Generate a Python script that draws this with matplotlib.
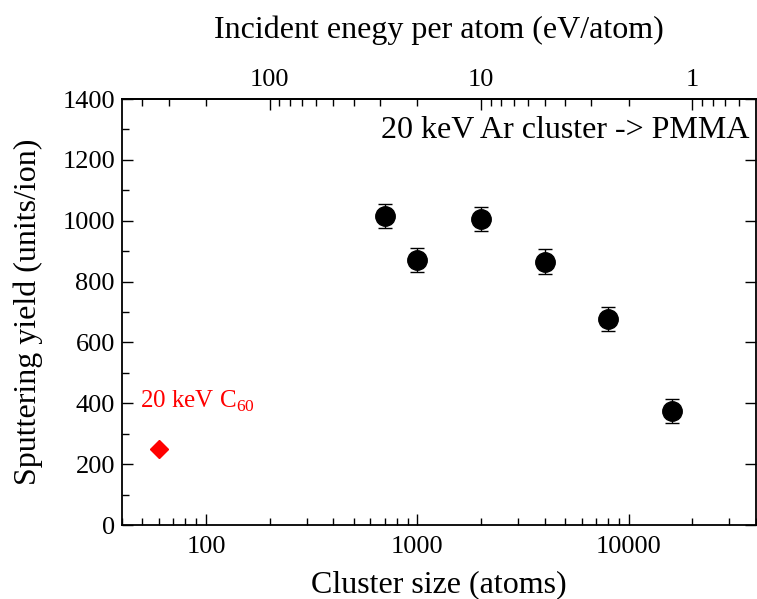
import matplotlib
matplotlib.use('Agg')
import matplotlib.pyplot as plt
from matplotlib.ticker import FuncFormatter, FixedLocator, NullFormatter

plt.rcParams['font.family'] = ['Liberation Serif', 'DejaVu Serif']
plt.rcParams['mathtext.fontset'] = 'custom'
plt.rcParams['mathtext.rm'] = 'Liberation Serif'

# Ar cluster data
cluster_size = [700, 1000, 2000, 4000, 8000, 16000]
yield_ar = [1015, 872, 1005, 866, 677, 375]
yield_err = [40, 40, 40, 40, 40, 40]

# C60 reference point
c60_size = [60]
c60_yield = [250]

E_total = 20000.0  # eV
top_major = [100, 10, 1]
top_minor = [400, 300, 200, 90, 80, 70, 60, 50, 40, 30, 20,
             9, 8, 7, 6, 5, 4, 3, 2, 0.9, 0.8, 0.7, 0.6]

fig = plt.figure(figsize=(7.57, 5.99), dpi=100)
ax = fig.add_axes([0.161, 0.1235, 0.8375, 0.7112])

ax.errorbar(cluster_size, yield_ar, yerr=yield_err, fmt='o', color='black',
            markersize=14, ecolor='black', elinewidth=1, capsize=5, capthick=1)
ax.plot(c60_size, c60_yield, 'D', color='red', markersize=9)

ax.set_xscale('log')
ax.set_xlim(40, 40000)
ax.set_ylim(0, 1400)
ax.set_yticks(range(0, 1401, 200))
ax.set_yticks(range(100, 1400, 200), minor=True)

ax.xaxis.set_major_formatter(FuncFormatter(lambda v, p: '%d' % v))
ax.tick_params(which='both', direction='in', top=False, right=True, labelsize=19, width=1)
ax.tick_params(which='major', length=8, pad=5)
ax.tick_params(axis='x', which='major', pad=8)
ax.tick_params(which='minor', length=5)
ax.tick_params(axis='y', which='minor', right=False, left=True)
for s in ax.spines.values():
    s.set_linewidth(1.3)

ax.set_xlabel('Cluster size (atoms)', fontsize=23, labelpad=9)
ax.set_ylabel('Sputtering yield (units/ion)', fontsize=23, labelpad=14)

f = lambda x: E_total / x
sec = ax.secondary_xaxis('top', functions=(f, f))
sec.xaxis.set_major_locator(FixedLocator(top_major))
sec.xaxis.set_minor_locator(FixedLocator(top_minor))
sec.xaxis.set_major_formatter(FuncFormatter(lambda v, p: '%g' % v))
sec.xaxis.set_minor_formatter(NullFormatter())
sec.tick_params(which='both', direction='in', labelsize=19, width=1)
sec.tick_params(which='major', length=8, pad=6)
sec.tick_params(which='minor', length=5)
sec.spines['top'].set_linewidth(1.3)
sec.set_xlabel('Incident enegy per atom (eV/atom)', fontsize=23, labelpad=22)

ax.text(0.99, 0.925, '20 keV Ar cluster -> PMMA', transform=ax.transAxes,
        ha='right', va='center', fontsize=23)
ax.text(0.028, 0.29, '20 keV C$_{60}$', transform=ax.transAxes,
        ha='left', va='center', fontsize=18, color='red')

fig.savefig('out.png', dpi=100)
